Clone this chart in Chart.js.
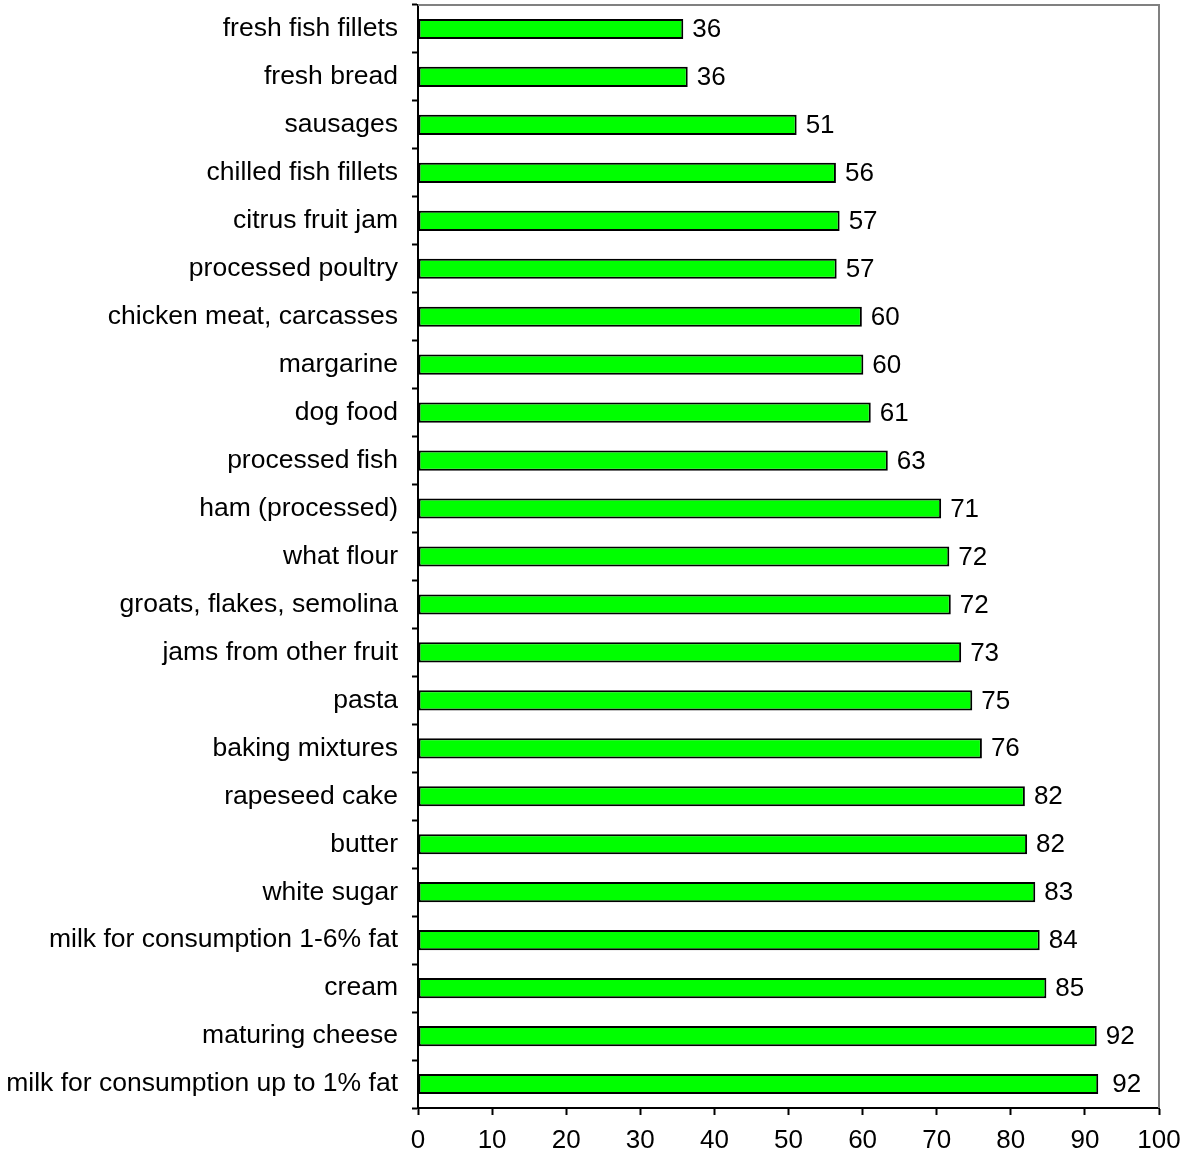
<!DOCTYPE html>
<html>
<head>
<meta charset="utf-8">
<script src="https://cdn.jsdelivr.net/npm/chart.js@4"></script>
<style>
  html, body { margin: 0; padding: 0; background: #fff; }
  #wrap { width: 1181px; height: 1160px; }
</style>
</head>
<body>
<div id="wrap"><canvas id="chart"></canvas></div>
<script>
const categories = [
  "fresh fish fillets", "fresh bread", "sausages", "chilled fish fillets",
  "citrus fruit jam", "processed poultry", "chicken meat, carcasses", "margarine",
  "dog food", "processed fish", "ham (processed)", "what flour",
  "groats, flakes, semolina", "jams from other fruit", "pasta", "baking mixtures",
  "rapeseed cake", "butter", "white sugar", "milk for consumption 1-6% fat",
  "cream", "maturing cheese", "milk for consumption up to 1% fat"
];
const values = [
  35.8, 36.4, 51.1, 56.4, 56.9, 56.5, 59.9, 60.1,
  61.1, 63.4, 70.6, 71.7, 71.9, 73.3, 74.8, 76.1,
  81.9, 82.2, 83.3, 83.9, 84.8, 91.6, 91.8
];
const valueLabels = [
  "36", "36", "51", "56", "57", "57", "60", "60",
  "61", "63", "71", "72", "72", "73", "75", "76",
  "82", "82", "83", "84", "85", "92", "92"
];
const xTicks = [0, 10, 20, 30, 40, 50, 60, 70, 80, 90, 100];

const FONT = "'Liberation Sans', Arial, sans-serif";

// value labels to the right of each bar
const barLabels = {
  id: "barLabels",
  afterDatasetsDraw(chart) {
    const ctx = chart.ctx;
    const meta = chart.getDatasetMeta(0);
    ctx.save();
    ctx.font = "26px " + FONT;
    ctx.fillStyle = "#000";
    ctx.textAlign = "left";
    ctx.textBaseline = "middle";
    meta.data.forEach((bar, i) => {
      const extra = i === meta.data.length - 1 ? 5 : 0;
      ctx.fillText(valueLabels[i], bar.x + 9 + extra, bar.y + 1);
    });
    ctx.restore();
  }
};

// gray frame on top and right of the plot area
const frame = {
  id: "frame",
  beforeDatasetsDraw(chart) {
    const { ctx, chartArea: a } = chart;
    ctx.save();
    ctx.strokeStyle = "#808080";
    ctx.lineWidth = 2;
    ctx.beginPath();
    ctx.moveTo(a.left, a.top);
    ctx.lineTo(a.right, a.top);
    ctx.lineTo(a.right, a.bottom);
    ctx.stroke();
    ctx.restore();
  }
};

new Chart(document.getElementById("chart"), {
  type: "bar",
  data: {
    labels: categories,
    datasets: [{
      data: values,
      backgroundColor: "#00ff00",
      borderColor: "#000",
      borderWidth: 2,
      borderSkipped: false,
      barPercentage: 0.42,
      categoryPercentage: 1
    }]
  },
  options: {
    indexAxis: "y",
    responsive: true,
    maintainAspectRatio: false,
    animation: false,
    layout: { padding: { top: 5, right: 0, left: 0, bottom: 0 } },
    plugins: {
      legend: { display: false },
      tooltip: { enabled: false }
    },
    scales: {
      x: {
        min: 0,
        max: 100,
        afterBuildTicks: (axis) => { axis.ticks = xTicks.map(v => ({ value: v })); },
        afterFit: (axis) => {
          axis.height = 52;
          axis.paddingLeft = 0;
          axis.paddingRight = 22;
        },
        grid: {
          drawOnChartArea: false,
          drawTicks: true,
          tickLength: 7,
          tickColor: "#000",
          tickWidth: 2
        },
        border: { color: "#000", width: 2 },
        ticks: {
          color: "#000",
          font: { family: FONT, size: 26 },
          padding: 10,
          maxRotation: 0
        }
      },
      y: {
        afterFit: (axis) => {
          axis.width = 418;
          axis.paddingTop = 0;
          axis.paddingBottom = 0;
        },
        grid: {
          offset: true,
          drawOnChartArea: false,
          drawTicks: true,
          tickLength: 6,
          tickColor: "#000",
          tickWidth: 2
        },
        border: { color: "#000", width: 2 },
        ticks: {
          color: "#000",
          font: { family: FONT, size: 26.5 },
          padding: 14,
          autoSkip: false
        }
      }
    }
  },
  plugins: [frame, barLabels]
});
</script>
</body>
</html>
